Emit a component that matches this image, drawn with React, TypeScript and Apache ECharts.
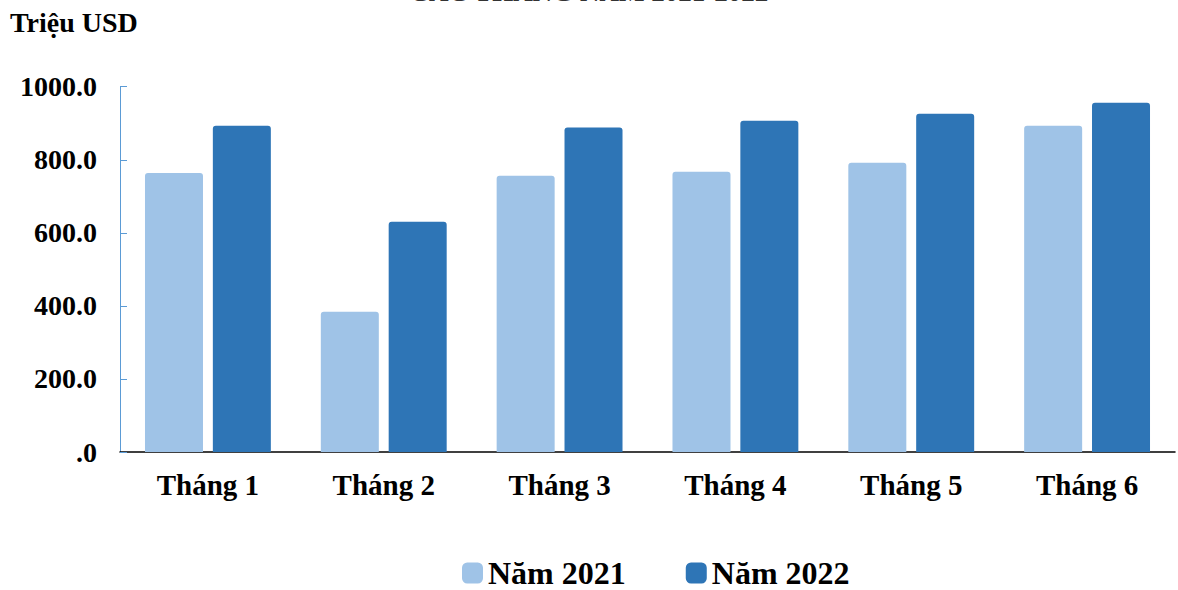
import React, { useEffect, useRef } from "react";
import * as echarts from "echarts";

// Monthly values, million USD
const months = ["Tháng 1", "Tháng 2", "Tháng 3", "Tháng 4", "Tháng 5", "Tháng 6"];
const year2021 = [764, 384, 756, 767, 792, 893];
const year2022 = [893, 630, 888, 907, 926, 956];
const seriesNames = ["Năm 2021", "Năm 2022"];
const unitLabel = "Triệu USD";
const titleText = "CÁC THÁNG NĂM 2021-2022";

const FONT = "'Times New Roman', 'Liberation Serif', serif";

export default function App() {
  const ref = useRef<HTMLDivElement>(null);

  useEffect(() => {
    if (!ref.current) return;
    const chart = echarts.init(ref.current, undefined, { renderer: "svg" });
    chart.setOption({
      animation: false,
      backgroundColor: "#ffffff",
      textStyle: { fontFamily: FONT },
      graphic: [
        {
          // heading sits above the canvas top; only its lower edge shows
          type: "text",
          left: "center",
          top: -22,
          style: {
            text: titleText,
            font: `bold 27px ${FONT}`,
            fill: "#333",
          },
        },
        {
          type: "text",
          left: 10,
          top: 8,
          style: {
            text: unitLabel,
            font: `bold 28px ${FONT}`,
            fill: "#000",
          },
        },
      ],
      legend: {
        top: 557,
        left: 462,
        padding: 0,
        itemWidth: 21,
        itemHeight: 21,
        itemGap: 60,
        itemStyle: { borderWidth: 0 },
        icon: "roundRect",
        textStyle: {
          fontFamily: FONT,
          fontWeight: "bold",
          fontSize: 32,
          lineHeight: 30,
          color: "#000",
        },
        data: seriesNames,
      },
      grid: { left: 120, right: 3, top: 86.7, bottom: 138, containLabel: false },
      xAxis: {
        type: "category",
        data: months,
        axisLine: { show: true, lineStyle: { color: "#000", width: 1.5 } },
        axisTick: { show: false },
        axisLabel: {
          margin: 18,
          fontFamily: FONT,
          fontWeight: "bold",
          fontSize: 29,
          color: "#000",
        },
      },
      yAxis: {
        type: "value",
        min: 0,
        max: 1000,
        interval: 200,
        axisLine: { show: true, lineStyle: { color: "#5b9bd5", width: 1 } },
        axisTick: { show: true, inside: true, length: 7, lineStyle: { color: "#5b9bd5" } },
        splitLine: { show: false },
        axisLabel: {
          margin: 23,
          fontFamily: FONT,
          fontWeight: "bold",
          fontSize: 28,
          color: "#000",
          formatter: (v: number) => (v === 0 ? ".0" : v.toFixed(1)),
        },
      },
      series: [
        {
          name: seriesNames[0],
          type: "bar",
          data: year2021,
          barWidth: 58,
          barGap: "17%",
          itemStyle: { color: "#9fc3e7", borderRadius: [3, 3, 0, 0] },
        },
        {
          name: seriesNames[1],
          type: "bar",
          data: year2022,
          barWidth: 58,
          barGap: "17%",
          itemStyle: { color: "#2e75b6", borderRadius: [3, 3, 0, 0] },
        },
      ],
    });
    return () => chart.dispose();
  }, []);

  return (
    <div
      ref={ref}
      style={{ position: "absolute", left: 0, top: 0, width: 1178, height: 590 }}
    />
  );
}
